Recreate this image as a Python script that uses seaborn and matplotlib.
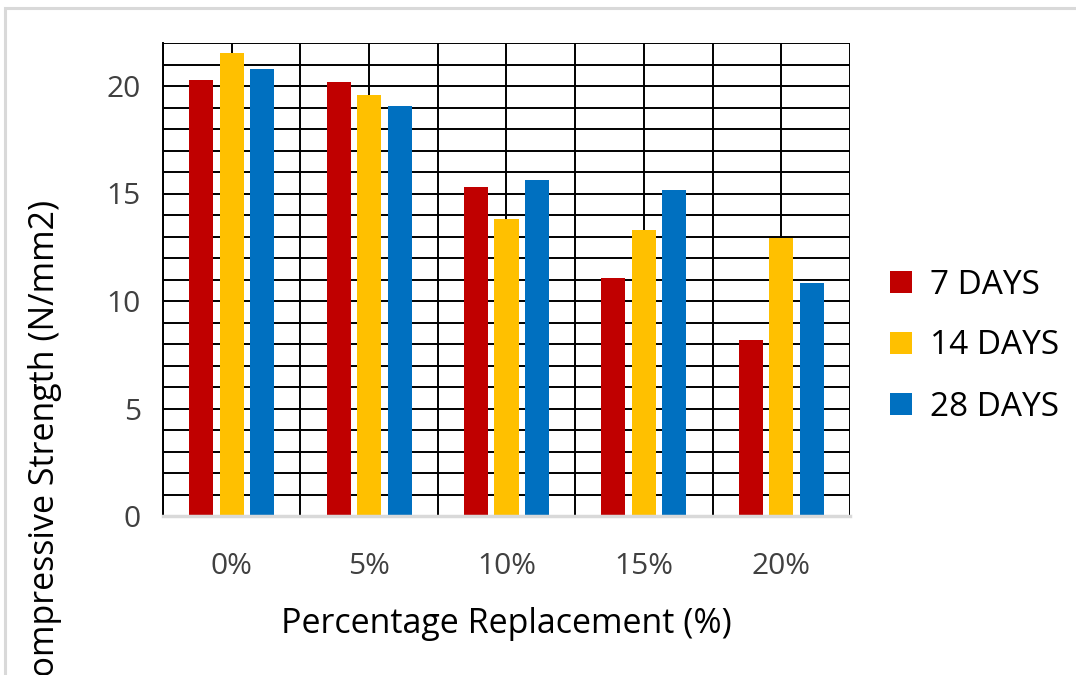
import matplotlib
matplotlib.use("Agg")
import matplotlib.pyplot as plt
from matplotlib.patches import Rectangle
from matplotlib.ticker import MultipleLocator, FixedLocator
import seaborn as sns
import pandas as pd

# Compressive strength (N/mm2) by replacement level and curing age
replacement = ["0%", "5%", "10%", "15%", "20%"]
ages = ["7 DAYS", "14 DAYS", "28 DAYS"]
strength_7 = [20.3, 20.2, 15.3, 11.05, 8.2]
strength_14 = [21.55, 19.6, 13.8, 13.3, 12.95]
strength_28 = [20.8, 19.05, 15.65, 15.15, 10.85]
colors = ["#C00000", "#FFC000", "#0070C0"]

df = pd.DataFrame({
    "Replacement": replacement * 3,
    "Age": [a for a in ages for _ in replacement],
    "Strength": strength_7 + strength_14 + strength_28,
})

sns.set_theme(style="white")
plt.rcParams["font.family"] = ["Open Sans", "DejaVu Sans"]

fig = plt.figure(figsize=(10.76, 6.75), dpi=100)
ax = fig.add_axes([163 / 1076, 1 - 516 / 675, 687 / 1076, 473 / 675])

sns.barplot(data=df, x="Replacement", y="Strength", hue="Age",
            hue_order=ages, order=replacement, palette=colors,
            width=0.666, gap=0.21, saturation=1, linewidth=0, ax=ax)

ax.set_xlim(-0.5, 4.5)
ax.set_ylim(0, 22)

# dense black grid: every unit vertically, category centres and edges horizontally
ax.yaxis.set_major_locator(FixedLocator([0, 5, 10, 15, 20]))
ax.yaxis.set_minor_locator(MultipleLocator(1))
ax.xaxis.set_minor_locator(FixedLocator([-0.5, 0.5, 1.5, 2.5, 3.5, 4.5]))
ax.set_axisbelow(True)
ax.grid(True, which="both", color="black", linewidth=1.4)
ax.tick_params(which="both", length=0)
ax.tick_params(axis="y", labelsize=21.5, labelcolor="#404040", pad=16)
ax.tick_params(axis="x", labelsize=21.5, labelcolor="#404040", pad=26)

for side in ["top", "right"]:
    ax.spines[side].set_visible(False)
ax.spines["left"].set_color("black")
ax.spines["left"].set_linewidth(1.4)
ax.spines["bottom"].set_color("#D9D9D9")
ax.spines["bottom"].set_linewidth(2.5)
ax.spines["bottom"].set_zorder(5)

ax.set_xlabel("Percentage Replacement (%)", fontsize=24.5, color="black")
ax.xaxis.set_label_coords(0.5, -0.228)
ax.xaxis.label.set_va("center")
ax.set_ylabel("Compressive Strength (N/mm2)", fontsize=24.5, color="black")
ax.yaxis.set_label_coords(-0.172, 0.142)
ax.yaxis.label.set_va("center")

handles, labels = ax.get_legend_handles_labels()
ax.legend(handles, labels, loc="center left",
          bbox_to_anchor=(890 / 1076, 1 - 346 / 675), bbox_transform=fig.transFigure,
          frameon=False, fontsize=24, labelcolor="black",
          handlelength=0.66, handleheight=0.66,
          handletextpad=0.55, labelspacing=0.84, borderpad=0, borderaxespad=0)

# outer chart-area border
fig.patches.append(Rectangle((5 / 1076, -0.1), 1.2, 1.1 - 8 / 675,
                             transform=fig.transFigure, fill=False,
                             edgecolor="#D9D9D9", linewidth=2.2))

fig.savefig("out.png", dpi=100)
